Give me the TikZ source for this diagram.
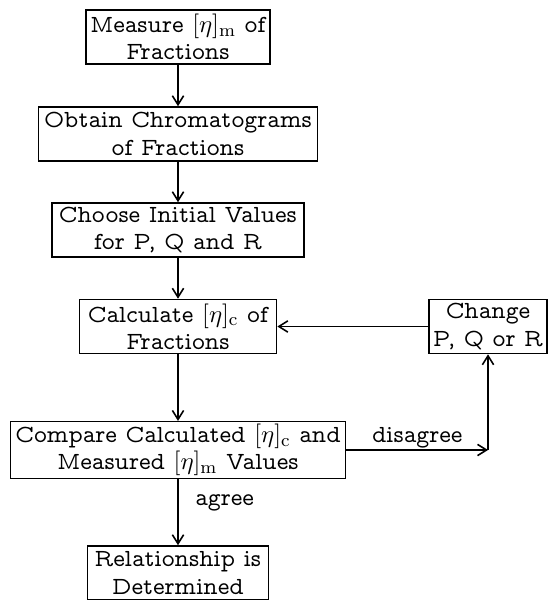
\documentclass[tikz,border=0pt]{standalone}
\usetikzlibrary{arrows.meta}

\begin{document}
\begin{tikzpicture}[x=0.4444pt, y=-0.4444pt, line width=0.7pt,
  every node/.style={font=\fontencoding{OT1}\fontfamily{cmvtt}\fontsize{11}{12.2}\selectfont},
  stage/.style={draw, align=center, minimum height=24pt, inner sep=1pt},
  flow/.style={-{Straight Barb[length=4pt,width=5pt]}}]
  \useasboundingbox (0,0) rectangle (548,600);
  % main column of steps
  \node[stage, minimum width=81.8pt] (measure) at (178,37) {Measure $[\eta]_{\mathrm{m}}$ of\\Fractions};
  \node[stage, minimum width=124pt] (obtain) at (178,134) {Obtain Chromatograms\\of Fractions};
  \node[stage, minimum width=112pt] (choose) at (178,230) {Choose Initial Values\\for P, Q and R};
  \node[stage, minimum width=87.6pt] (calc) at (178,326.5) {Calculate $[\eta]_{\mathrm{c}}$ of\\Fractions};
  \node[stage, minimum width=149pt] (compare) at (178,450) {Compare Calculated $[\eta]_{\mathrm{c}}$ and\\Measured $[\eta]_{\mathrm{m}}$ Values};
  \node[stage, minimum width=80.4pt] (relation) at (178,573) {Relationship is\\Determined};
  % feedback step
  \node[stage, minimum width=52.4pt] (change) at (488,326.5) {Change\\P, Q or R};
  \coordinate (turn) at (compare.east -| change.south);

  \draw[flow] (measure) -- (obtain);
  \draw[flow] (obtain) -- (choose);
  \draw[flow] (choose) -- (calc);
  \draw[flow] (calc) -- (compare);
  \draw[flow] (compare) -- node[right=4pt, pos=0.36] {agree} (relation);
  \draw[flow] (compare.east) -- node[above=-2.7pt] {disagree} (turn);
  \draw[flow] (turn) -- (change.south);
  \draw[flow] (change) -- (calc);
\end{tikzpicture}
\end{document}
